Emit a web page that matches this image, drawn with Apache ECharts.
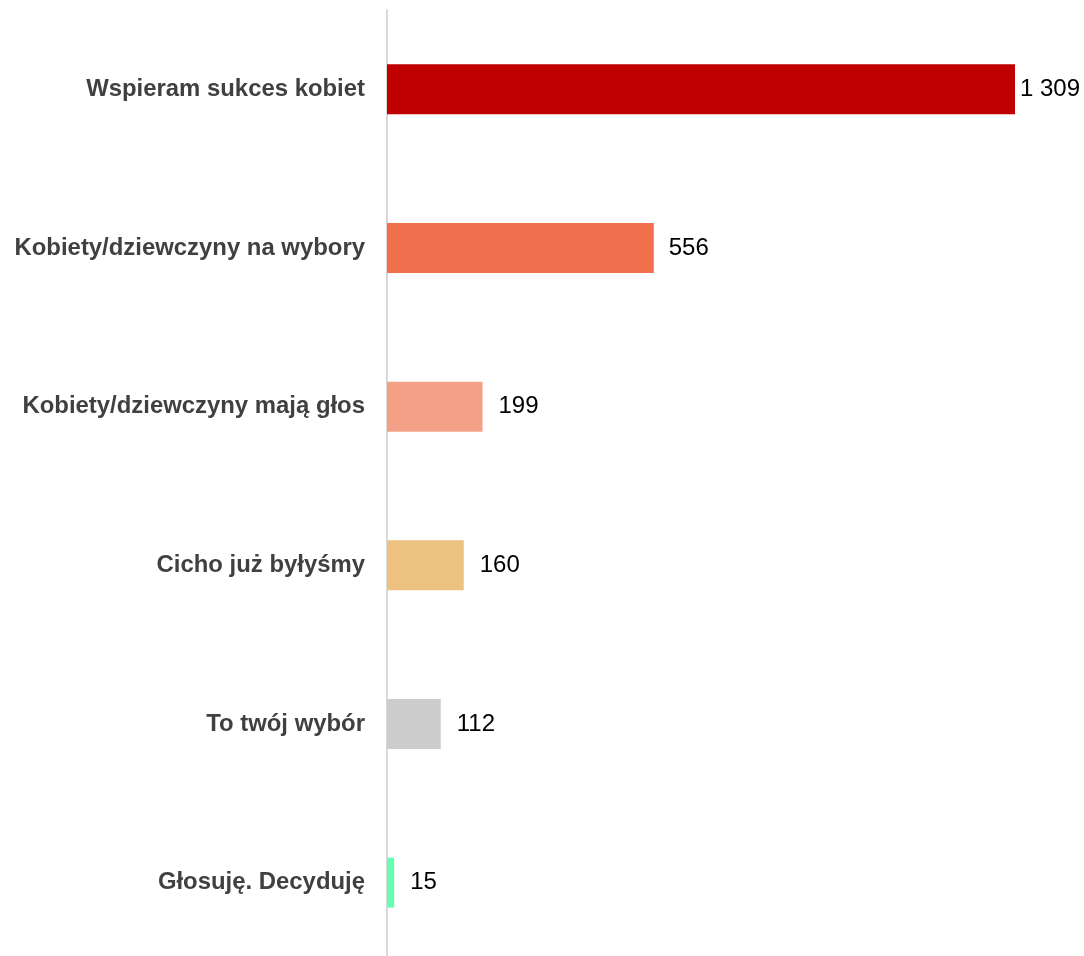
<!DOCTYPE html>
<html>
<head>
<meta charset="utf-8">
<script src="https://cdn.jsdelivr.net/npm/echarts@6/dist/echarts.min.js"></script>
<style>html,body{margin:0;padding:0;background:#fff;overflow:hidden;}#c{width:1084px;height:962px;}</style>
</head>
<body>
<div id="c"></div>
<script>
const categories = ["Wspieram sukces kobiet","Kobiety/dziewczyny na wybory","Kobiety/dziewczyny mają głos","Cicho już byłyśmy","To twój wybór","Głosuję. Decyduję"];
const values = [1309, 556, 199, 160, 112, 15];
const colors = ["#C00000","#F0704D","#F4A086","#EDC17F","#CCCCCC","#66FFB2"];
const labelDistances = [5, 15, 16, 16, 16, 16];

const chart = echarts.init(document.getElementById('c'), null, {renderer:'canvas'});
chart.setOption({
  animation: false,
  grid: {left: 387, top: 10, right: 69, bottom: 0, containLabel: false},
  xAxis: {type: 'value', min: 0, max: 1309, show: false},
  yAxis: {
    type: 'category', data: categories, inverse: true,
    axisLine: {show: true, lineStyle: {color: '#D9D9D9', width: 2}},
    axisTick: {show: false},
    axisLabel: {margin: 22, fontFamily: 'Liberation Sans, Arial, sans-serif', fontWeight: 'bold', fontSize: 23.9, color: '#404040'}
  },
  series: [{
    type: 'bar', barWidth: 50,
    data: values.map((v,i)=>({value: v, itemStyle: {color: colors[i]}, label: {distance: labelDistances[i]}})),
    label: {show: true, position: 'right', fontFamily: 'Liberation Sans, Arial, sans-serif', fontSize: 24, color: '#000',
      formatter: p => String(p.value).replace(/\B(?=(\d{3})+(?!\d))/g, ' ')}
  }]
});
</script>
</body>
</html>
